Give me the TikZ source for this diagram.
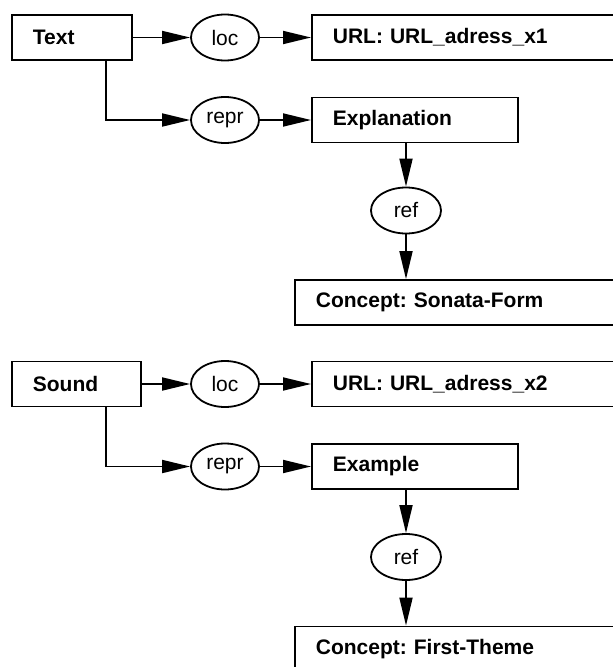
\documentclass[tikz,border=0pt]{standalone}
\usepackage{fontspec}
\setmainfont{Liberation Sans}
\usetikzlibrary{positioning, calc}
\usetikzlibrary{shapes.geometric, arrows.meta}
\tikzset{
    mbox/.style={draw, line width=1.8pt, anchor=west, minimum height=45pt, inner xsep=21pt, inner ysep=0pt, align=left, font=\fontsize{21}{25}\selectfont\bfseries\frenchspacing},
    rel/.style={draw, ellipse, line width=1.8pt, minimum width=68pt, minimum height=46pt, inner sep=0pt, font=\fontsize{21}{25}\selectfont},
    link/.style={line width=1.8pt, -{Triangle[length=28pt,width=13pt]}}
}
\newcommand{\mediablock}[7]{
    \node[mbox, text width=#4] (src#2) at (11,37.5+#1) {#3};
    \node[rel] (loc#2) at (225,37.5+#1) {loc};
    \node[mbox, text width=300pt] (url#2) at (311,37.5+#1) {#5};
    \node[rel] (repr#2) at (225,120+#1) {repr};
    \node[mbox, text width=164pt] (mid#2) at (311,120+#1) {#6};
    \node[rel, minimum width=70pt] (ref#2) at (406,210.5+#1) {ref};
    \node[mbox, text width=320pt] (concept#2) at (294,302.5+#1) {#7};
    \coordinate (bend#2) at (106,120+#1);
    \draw[link] (src#2.east) -- (loc#2);
    \draw[link] (loc#2) -- (url#2);
    \draw[link] (bend#2 |- src#2.south) -- (bend#2) -- (repr#2);
    \draw[link] (repr#2) -- (mid#2);
    \draw[link] (ref#2 |- mid#2.south) -- (ref#2);
    \draw[link] (ref#2) -- (ref#2 |- concept#2.north);
}

\begin{document}
\begin{tikzpicture}[x=1pt, y=-1pt]
    \useasboundingbox (0,0) rectangle (613,667);
    \clip (0,0) rectangle (613,667);
    \mediablock{0}{t}{Text}{78pt}{URL: URL\_adress\_x1}{Explanation}{Concept: Sonata-Form}
    \mediablock{346.5}{s}{Sound}{87pt}{URL: URL\_adress\_x2}{Example}{Concept: First-Theme}
\end{tikzpicture}
\end{document}
